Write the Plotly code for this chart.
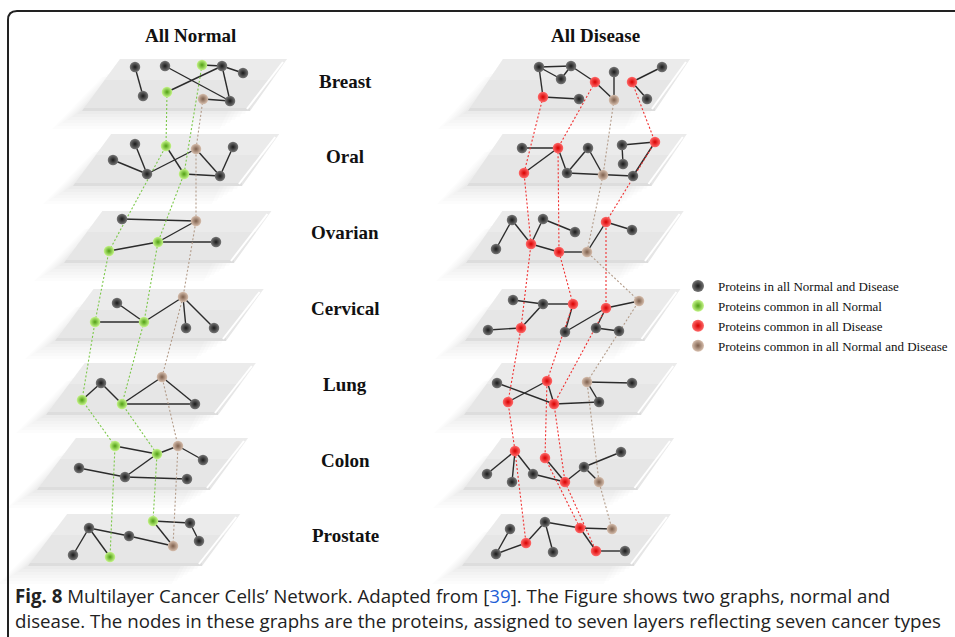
import plotly.graph_objects as go

# ---------------- data ----------------
LAYERS = ["Breast", "Oral", "Ovarian", "Cervical", "Lung", "Colon", "Prostate"]
SIDE_TITLES = ["All Normal", "All Disease"]
KIND_LABELS = {
    "k": "Proteins in all Normal and Disease",
    "g": "Proteins common in all Normal",
    "r": "Proteins common in all Disease",
    "b": "Proteins common in all Normal and Disease",
}

# node positions (x, y, kind) per layer (pixel units)
normal_breast = [(135, 67, "k"), (165, 66, "k"), (202, 65, "g"), (222, 66, "k"), (243, 73, "k"),
                 (143, 96, "k"), (167, 92, "g"), (203, 99, "b"), (230, 101, "k")]
normal_breast_edges = [(0, 5), (1, 8), (6, 3), (2, 3), (3, 4), (3, 8), (7, 8)]
normal_oral = [(135, 144, "k"), (166, 146, "g"), (196, 149, "b"), (233, 147, "k"), (113, 160, "k"),
               (147, 174, "k"), (184, 174, "g"), (220, 176, "k")]
normal_oral_edges = [(0, 5), (4, 5), (5, 2), (1, 6), (6, 7), (2, 7), (3, 7)]
normal_ovarian = [(122, 219, "k"), (196, 221, "b"), (158, 242, "g"), (216, 242, "k"), (109, 251, "g")]
normal_ovarian_edges = [(0, 1), (1, 2), (2, 3), (2, 4)]
normal_cervical = [(183, 297, "b"), (117, 303, "k"), (95, 322, "g"), (144, 322, "g"), (186, 328, "k"),
                   (214, 328, "k")]
normal_cervical_edges = [(1, 3), (2, 3), (3, 0), (0, 4), (0, 5)]
normal_lung = [(162, 377, "b"), (101, 383, "k"), (82, 400, "g"), (122, 404, "g"), (195, 404, "k")]
normal_lung_edges = [(2, 1), (1, 3), (3, 0), (0, 4), (3, 4)]
normal_colon = [(115, 446, "g"), (178, 446, "b"), (157, 454, "g"), (203, 460, "k"), (79, 468, "k"),
                (125, 477, "k"), (187, 479, "k")]
normal_colon_edges = [(0, 2), (2, 1), (1, 3), (2, 5), (4, 5), (5, 6)]
normal_prostate = [(153, 521, "g"), (190, 523, "k"), (89, 528, "k"), (129, 536, "k"), (199, 541, "k"),
                   (173, 546, "b"), (73, 555, "k"), (110, 557, "g")]
normal_prostate_edges = [(0, 1), (1, 4), (0, 5), (2, 3), (3, 5), (2, 6), (2, 7)]

# inter-layer chains: node index in each layer, top to bottom
normal_chains = [("g", [6, 1, 4, 2, 2, 0, 7]),
                 ("g", [2, 6, 2, 3, 3, 2, 0]),
                 ("b", [7, 2, 1, 0, 0, 1, 5])]

disease_breast = [(539, 67, "k"), (571, 66, "k"), (561, 79, "k"), (595, 82, "r"), (614, 72, "k"),
                  (662, 67, "k"), (632, 82, "r"), (543, 97, "r"), (579, 99, "k"), (614, 100, "b"),
                  (647, 99, "k")]
disease_breast_edges = [(0, 1), (0, 2), (2, 1), (1, 3), (3, 9), (4, 9), (6, 5), (6, 10), (0, 7), (7, 8)]
disease_oral = [(522, 148, "k"), (558, 148, "r"), (588, 148, "k"), (622, 145, "k"), (655, 142, "r"),
                (623, 164, "k"), (524, 173, "r"), (567, 173, "k"), (603, 175, "b"), (633, 176, "k")]
disease_oral_edges = [(0, 1), (1, 6), (1, 7), (7, 2), (2, 8), (7, 9), (3, 4), (3, 5), (4, 9)]
disease_ovarian = [(512, 220, "k"), (543, 219, "k"), (606, 222, "r"), (575, 232, "k"), (632, 230, "k"),
                   (531, 244, "r"), (496, 249, "k"), (559, 252, "r"), (587, 252, "b")]
disease_ovarian_edges = [(6, 0), (0, 5), (5, 1), (1, 3), (5, 7), (7, 8), (8, 2), (2, 4)]
disease_cervical = [(513, 300, "k"), (543, 304, "k"), (573, 304, "r"), (639, 301, "b"), (606, 308, "r"),
                    (488, 330, "k"), (521, 328, "r"), (565, 332, "k"), (596, 328, "k"), (619, 331, "k")]
disease_cervical_edges = [(0, 1), (1, 2), (1, 6), (5, 6), (2, 7), (7, 4), (4, 3), (4, 8), (8, 9)]
disease_lung = [(497, 383, "k"), (547, 381, "r"), (587, 382, "b"), (632, 383, "k"), (508, 402, "r"),
                (554, 404, "r"), (599, 402, "k")]
disease_lung_edges = [(0, 5), (4, 1), (1, 5), (5, 6), (2, 3), (2, 6)]
disease_colon = [(515, 451, "r"), (621, 452, "k"), (545, 458, "r"), (584, 467, "k"), (487, 474, "k"),
                 (512, 482, "k"), (533, 474, "k"), (565, 482, "r"), (599, 482, "b")]
disease_colon_edges = [(0, 4), (0, 5), (0, 6), (6, 7), (2, 7), (7, 3), (3, 1), (3, 8)]
disease_prostate = [(545, 522, "k"), (510, 529, "k"), (580, 528, "r"), (612, 529, "b"), (526, 543, "r"),
                    (553, 552, "k"), (496, 554, "k"), (596, 551, "r"), (625, 551, "k")]
disease_prostate_edges = [(0, 2), (2, 3), (0, 4), (0, 5), (4, 6), (6, 1), (2, 7), (7, 8)]

disease_chains = [("r", [7, 6, 5, 6, 4, 0, 4]),
                  ("r", [3, 1, 7, 2, 1, 2, 2]),
                  ("r", [6, 4, 2, 4, 5, 7, 7]),
                  ("b", [9, 8, 8, 3, 2, 8, 3])]

# ---------------- assembly ----------------
normal_layers = [normal_breast, normal_oral, normal_ovarian, normal_cervical,
                 normal_lung, normal_colon, normal_prostate]
normal_edges = [normal_breast_edges, normal_oral_edges, normal_ovarian_edges, normal_cervical_edges,
                normal_lung_edges, normal_colon_edges, normal_prostate_edges]
disease_layers = [disease_breast, disease_oral, disease_ovarian, disease_cervical,
                  disease_lung, disease_colon, disease_prostate]
disease_edges = [disease_breast_edges, disease_oral_edges, disease_ovarian_edges, disease_cervical_edges,
                 disease_lung_edges, disease_colon_edges, disease_prostate_edges]

W, H = 955, 637
fig = go.Figure()

# ---- planes (decoration) ----
plane_top = [59, 134, 211, 289, 363, 438, 514]
shapes = []


def para(tl, tr, br, bl):
    return "M {} {} L {} {} L {} {} L {} {} Z".format(tl[0], tl[1], tr[0], tr[1], br[0], br[1], bl[0], bl[1])


for i, t in enumerate(plane_top):
    b = t + 52
    geoms = [
        (120 - 8.8 * i, 287 - 7.8 * i, 250 - 8 * i, 82 - 9 * i),
        (503 - 0.3 * i, 690 - 3.2 * i, 655 - 3.5 * i, 468 - 1 * i),
    ]
    for (tlx, trx, brx, blx) in geoms:
        # soft shadow
        for (dx, dy, a) in [(-30, 18, 0.010), (-25, 15, 0.011), (-20, 12, 0.012), (-15, 9, 0.013),
                            (-10, 6, 0.014), (-5, 3, 0.015)]:
            shapes.append(dict(type="path", layer="below", line=dict(width=0),
                               fillcolor="rgba(0,0,0,{})".format(a),
                               path=para((tlx + dx + 12, t + dy), (trx + dx - 12, t + dy),
                                         (brx + dx, b + dy), (blx + dx, b + dy))))
        # plane body
        shapes.append(dict(type="path", layer="below", line=dict(width=0), fillcolor="#e6e6e6",
                           path=para((tlx, t), (trx, t), (brx, b), (blx, b))))
        # lighter top part for a subtle gradient
        mid_r = trx * 0.6 + brx * 0.4
        mid_l = tlx * 0.6 + blx * 0.4
        shapes.append(dict(type="path", layer="below", line=dict(width=0), fillcolor="rgba(255,255,255,0.22)",
                           path=para((tlx, t), (trx, t), (mid_r, t + 21), (mid_l, t + 21))))
        # front edge darker strip
        shapes.append(dict(type="path", layer="below", line=dict(width=0), fillcolor="rgba(0,0,0,0.04)",
                           path=para((blx + 2, b - 3), (brx, b - 3), (brx, b), (blx, b))))
        # white rim on right edge
        shapes.append(dict(type="line", layer="below", x0=trx - 4, y0=t + 3, x1=brx - 3, y1=b - 2,
                           line=dict(color="white", width=2)))

# frame
shapes.append(dict(type="path", layer="above", path="M 8 650 L 8 20 Q 8 11 17 11 L 960 11",
                   line=dict(color="#222222", width=2)))

# ---- solid edges ----
for layers, edges in [(normal_layers, normal_edges), (disease_layers, disease_edges)]:
    ex, ey = [], []
    for nodes, eds in zip(layers, edges):
        for a, c in eds:
            ex += [nodes[a][0], nodes[c][0], None]
            ey += [nodes[a][1], nodes[c][1], None]
    fig.add_trace(go.Scatter(x=ex, y=ey, mode="lines", line=dict(color="#2b2b2b", width=1.4),
                             hoverinfo="skip", showlegend=False))

# ---- dashed inter-layer links ----
dash_colors = {"g": "#7cc84a", "r": "#f03030", "b": "#b39c8a"}
for layers, chains in [(normal_layers, normal_chains), (disease_layers, disease_chains)]:
    for kind, idxs in chains:
        cx = [layers[li][ni][0] for li, ni in enumerate(idxs)]
        cy = [layers[li][ni][1] for li, ni in enumerate(idxs)]
        fig.add_trace(go.Scatter(x=cx, y=cy, mode="lines",
                                 line=dict(color=dash_colors[kind], width=1.1, dash="2px,2px"),
                                 hoverinfo="skip", showlegend=False))

# ---- nodes ----
node_style = {
    "k": ("#777777", "#1a1a1a"),
    "g": ("#c6f58a", "#4f9e12"),
    "r": ("#ff6a6a", "#d80000"),
    "b": ("#d7bfae", "#7d5f4c"),
}
for kind in ["k", "g", "r", "b"]:
    xs, ys = [], []
    for layers in (normal_layers, disease_layers):
        for nodes in layers:
            for (x, y, k) in nodes:
                if k == kind:
                    xs.append(x)
                    ys.append(y)
    c0, c1 = node_style[kind]
    fig.add_trace(go.Scatter(x=xs, y=ys, mode="markers", name=KIND_LABELS[kind],
                             marker=dict(size=10.5, color=c0, line=dict(width=0),
                                         gradient=dict(type="radial", color=c1)),
                             hoverinfo="skip"))

# ---- text ----
ann = []
for txt, x in zip(SIDE_TITLES, [190, 595]):
    ann.append(dict(x=x, y=35, xref="x", yref="y", text="<b>{}</b>".format(txt), showarrow=False,
                    font=dict(family="Liberation Serif, Times New Roman, serif", size=19, color="#111")))
for i, name in enumerate(LAYERS):
    ann.append(dict(x=345, y=81 + 75.8 * i, xref="x", yref="y", text="<b>{}</b>".format(name), showarrow=False,
                    font=dict(family="Liberation Serif, Times New Roman, serif", size=19, color="#111")))
cap_font = dict(family="Open Sans, Liberation Sans, sans-serif", size=18.7, color="#222")
ann.append(dict(x=13, y=595, xref="x", yref="y", xanchor="left", yanchor="middle", showarrow=False,
                text="<b>Fig. 8</b> Multilayer Cancer Cells’ Network. Adapted from [<span style='color:#1f5fd6'>39</span>]. "
                     "The Figure shows two graphs, normal and", font=cap_font))
ann.append(dict(x=13, y=620, xref="x", yref="y", xanchor="left", yanchor="middle", showarrow=False,
                text="disease. The nodes in these graphs are the proteins, assigned to seven layers reflecting seven cancer types",
                font=cap_font))

fig.update_layout(
    width=W, height=H, margin=dict(l=0, r=0, t=0, b=0),
    paper_bgcolor="white", plot_bgcolor="white",
    xaxis=dict(range=[0, W], visible=False, fixedrange=True),
    yaxis=dict(range=[H, 0], visible=False, fixedrange=True),
    shapes=shapes, annotations=ann,
    legend=dict(x=678 / W, y=1 - 271 / H, xanchor="left", yanchor="top", bgcolor="rgba(0,0,0,0)",
                font=dict(family="Liberation Serif, Times New Roman, serif", size=13, color="#111"),
                itemwidth=30, tracegroupgap=0, itemsizing="constant"),
)
fig.write_html("out.html", config={"displayModeBar": False},
               post_script="document.body.style.margin='0';document.body.style.overflow='hidden';")
